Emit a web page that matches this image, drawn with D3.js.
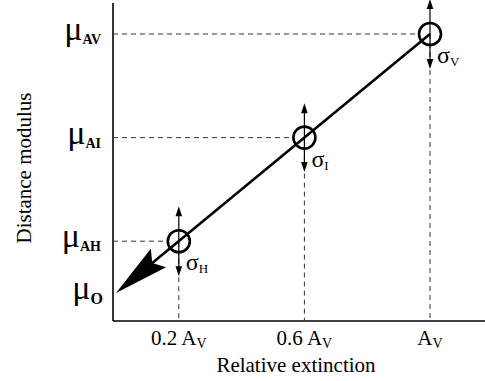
<!DOCTYPE html>
<html><head><meta charset="utf-8">
<script src="https://cdn.jsdelivr.net/npm/d3@7"></script>
<style>body{margin:0;background:#fff}svg{display:block}</style>
</head><body><svg id="c" width="485" height="381"></svg>
<script>
// Data
const extinction = [0.2, 0.6, 1.0];          // relative extinction
const modulus = [0.2, 0.6, 1.0];             // distance modulus relative to mu_O
const muO = 0;
const sigma = [0.135, 0.133, 0.135];         // error bar half-lengths
const bandSubs = ["H", "I", "V"];
const yTickSubs = ["AH", "AI", "AV"];
const xTickLabels = [["0.2 A", "V"], ["0.6 A", "V"], ["A", "V"]];

const FONT = "Liberation Serif";
const svg = d3.select("#c");
const x = d3.scaleLinear().domain([0, 1]).range([116, 430]);
const y = d3.scaleLinear().domain([0, 1]).range([293, 34]);
const x0 = 113, yAxisTop = 3, yAxisBottom = 321, xAxisRight = 485;
function txt() { return svg.append("text").attr("font-family", FONT).attr("fill", "#000"); }

// Axes
svg.append("line").attr("x1", x0).attr("x2", x0).attr("y1", yAxisTop).attr("y2", yAxisBottom)
  .attr("stroke", "#000").attr("stroke-width", 1.6);
svg.append("line").attr("x1", x0).attr("x2", xAxisRight).attr("y1", yAxisBottom).attr("y2", yAxisBottom)
  .attr("stroke", "#000").attr("stroke-width", 1.6);

const r = 11;
// Dashed guides
extinction.forEach((e, i) => {
  const px = x(e), py = y(modulus[i]);
  svg.append("line").attr("x1", x0).attr("x2", px - r).attr("y1", py).attr("y2", py)
    .attr("stroke", "#333").attr("stroke-width", 1).attr("stroke-dasharray", "5,4");
  svg.append("line").attr("x1", px).attr("x2", px).attr("y1", py).attr("y2", yAxisBottom)
    .attr("stroke", "#333").attr("stroke-width", 1).attr("stroke-dasharray", "5,4");
});

// Main line with big arrowhead
const tx = x(0), ty = y(muO);
const sx = x(1), sy = y(1);
const dx = tx - sx, dy = ty - sy, L = Math.hypot(dx, dy);
const ux = dx / L, uy = dy / L, nx = -uy, ny = ux;
const aLen = 55, aW = 12, notch = 8;
const bx = tx - ux * aLen, by = ty - uy * aLen;
svg.append("line").attr("x1", sx).attr("y1", sy).attr("x2", bx + ux * notch).attr("y2", by + uy * notch)
  .attr("stroke", "#000").attr("stroke-width", 2.6);
svg.append("path").attr("d", `M${tx},${ty}L${bx + nx * aW},${by + ny * aW}L${bx + ux * notch},${by + uy * notch}L${bx - nx * aW},${by - ny * aW}Z`)
  .attr("fill", "#000");

// Error arrows and circles
function smallArrow(px, pyTip, dir) {
  svg.append("path").attr("d", `M${px},${pyTip}L${px - 3.3},${pyTip - dir * 10}L${px + 3.3},${pyTip - dir * 10}Z`).attr("fill", "#000");
}
extinction.forEach((e, i) => {
  const px = x(e), py = y(modulus[i]);
  const up = y(modulus[i] + sigma[i]), dn = y(modulus[i] - sigma[i]);
  svg.append("line").attr("x1", px).attr("x2", px).attr("y1", up + 4).attr("y2", dn - 4)
    .attr("stroke", "#000").attr("stroke-width", 1.2);
  smallArrow(px, up, -1);
  smallArrow(px, dn, 1);
  svg.append("circle").attr("cx", px).attr("cy", py).attr("r", r)
    .attr("fill", "none").attr("stroke", "#000").attr("stroke-width", 2.6);
  const t = txt().attr("x", px + 7).attr("y", py + 29);
  t.append("tspan").text("σ").attr("font-size", 24);
  t.append("tspan").text(bandSubs[i]).attr("font-size", 13).attr("dy", 3);
});

// Y labels
const yLab = yTickSubs.map((s, i) => ({ v: modulus[i], s, fs: 14, dy: 4, xr: 101 })).concat([{ v: muO, s: "O", fs: 16, dy: 5, xr: 103 }]);
yLab.forEach(d => {
  const t = txt().attr("x", d.xr).attr("y", y(d.v) + 6).attr("text-anchor", "end");
  t.append("tspan").text("μ").attr("font-size", 34);
  t.append("tspan").text(d.s).attr("font-size", d.fs).attr("font-weight", "bold").attr("dy", d.dy);
});

// X tick labels
xTickLabels.forEach((lab, i) => {
  const t = txt().attr("x", x(extinction[i])).attr("y", 345).attr("text-anchor", "middle");
  t.append("tspan").text(lab[0]).attr("font-size", 21);
  t.append("tspan").text(lab[1]).attr("font-size", 14).attr("dy", 3);
});

txt().attr("x", 296).attr("y", 372).attr("text-anchor", "middle").attr("font-size", 21).text("Relative extinction");
txt().attr("transform", "translate(31,168) rotate(-90)").attr("text-anchor", "middle").attr("font-size", 21).text("Distance modulus");
</script></body></html>
